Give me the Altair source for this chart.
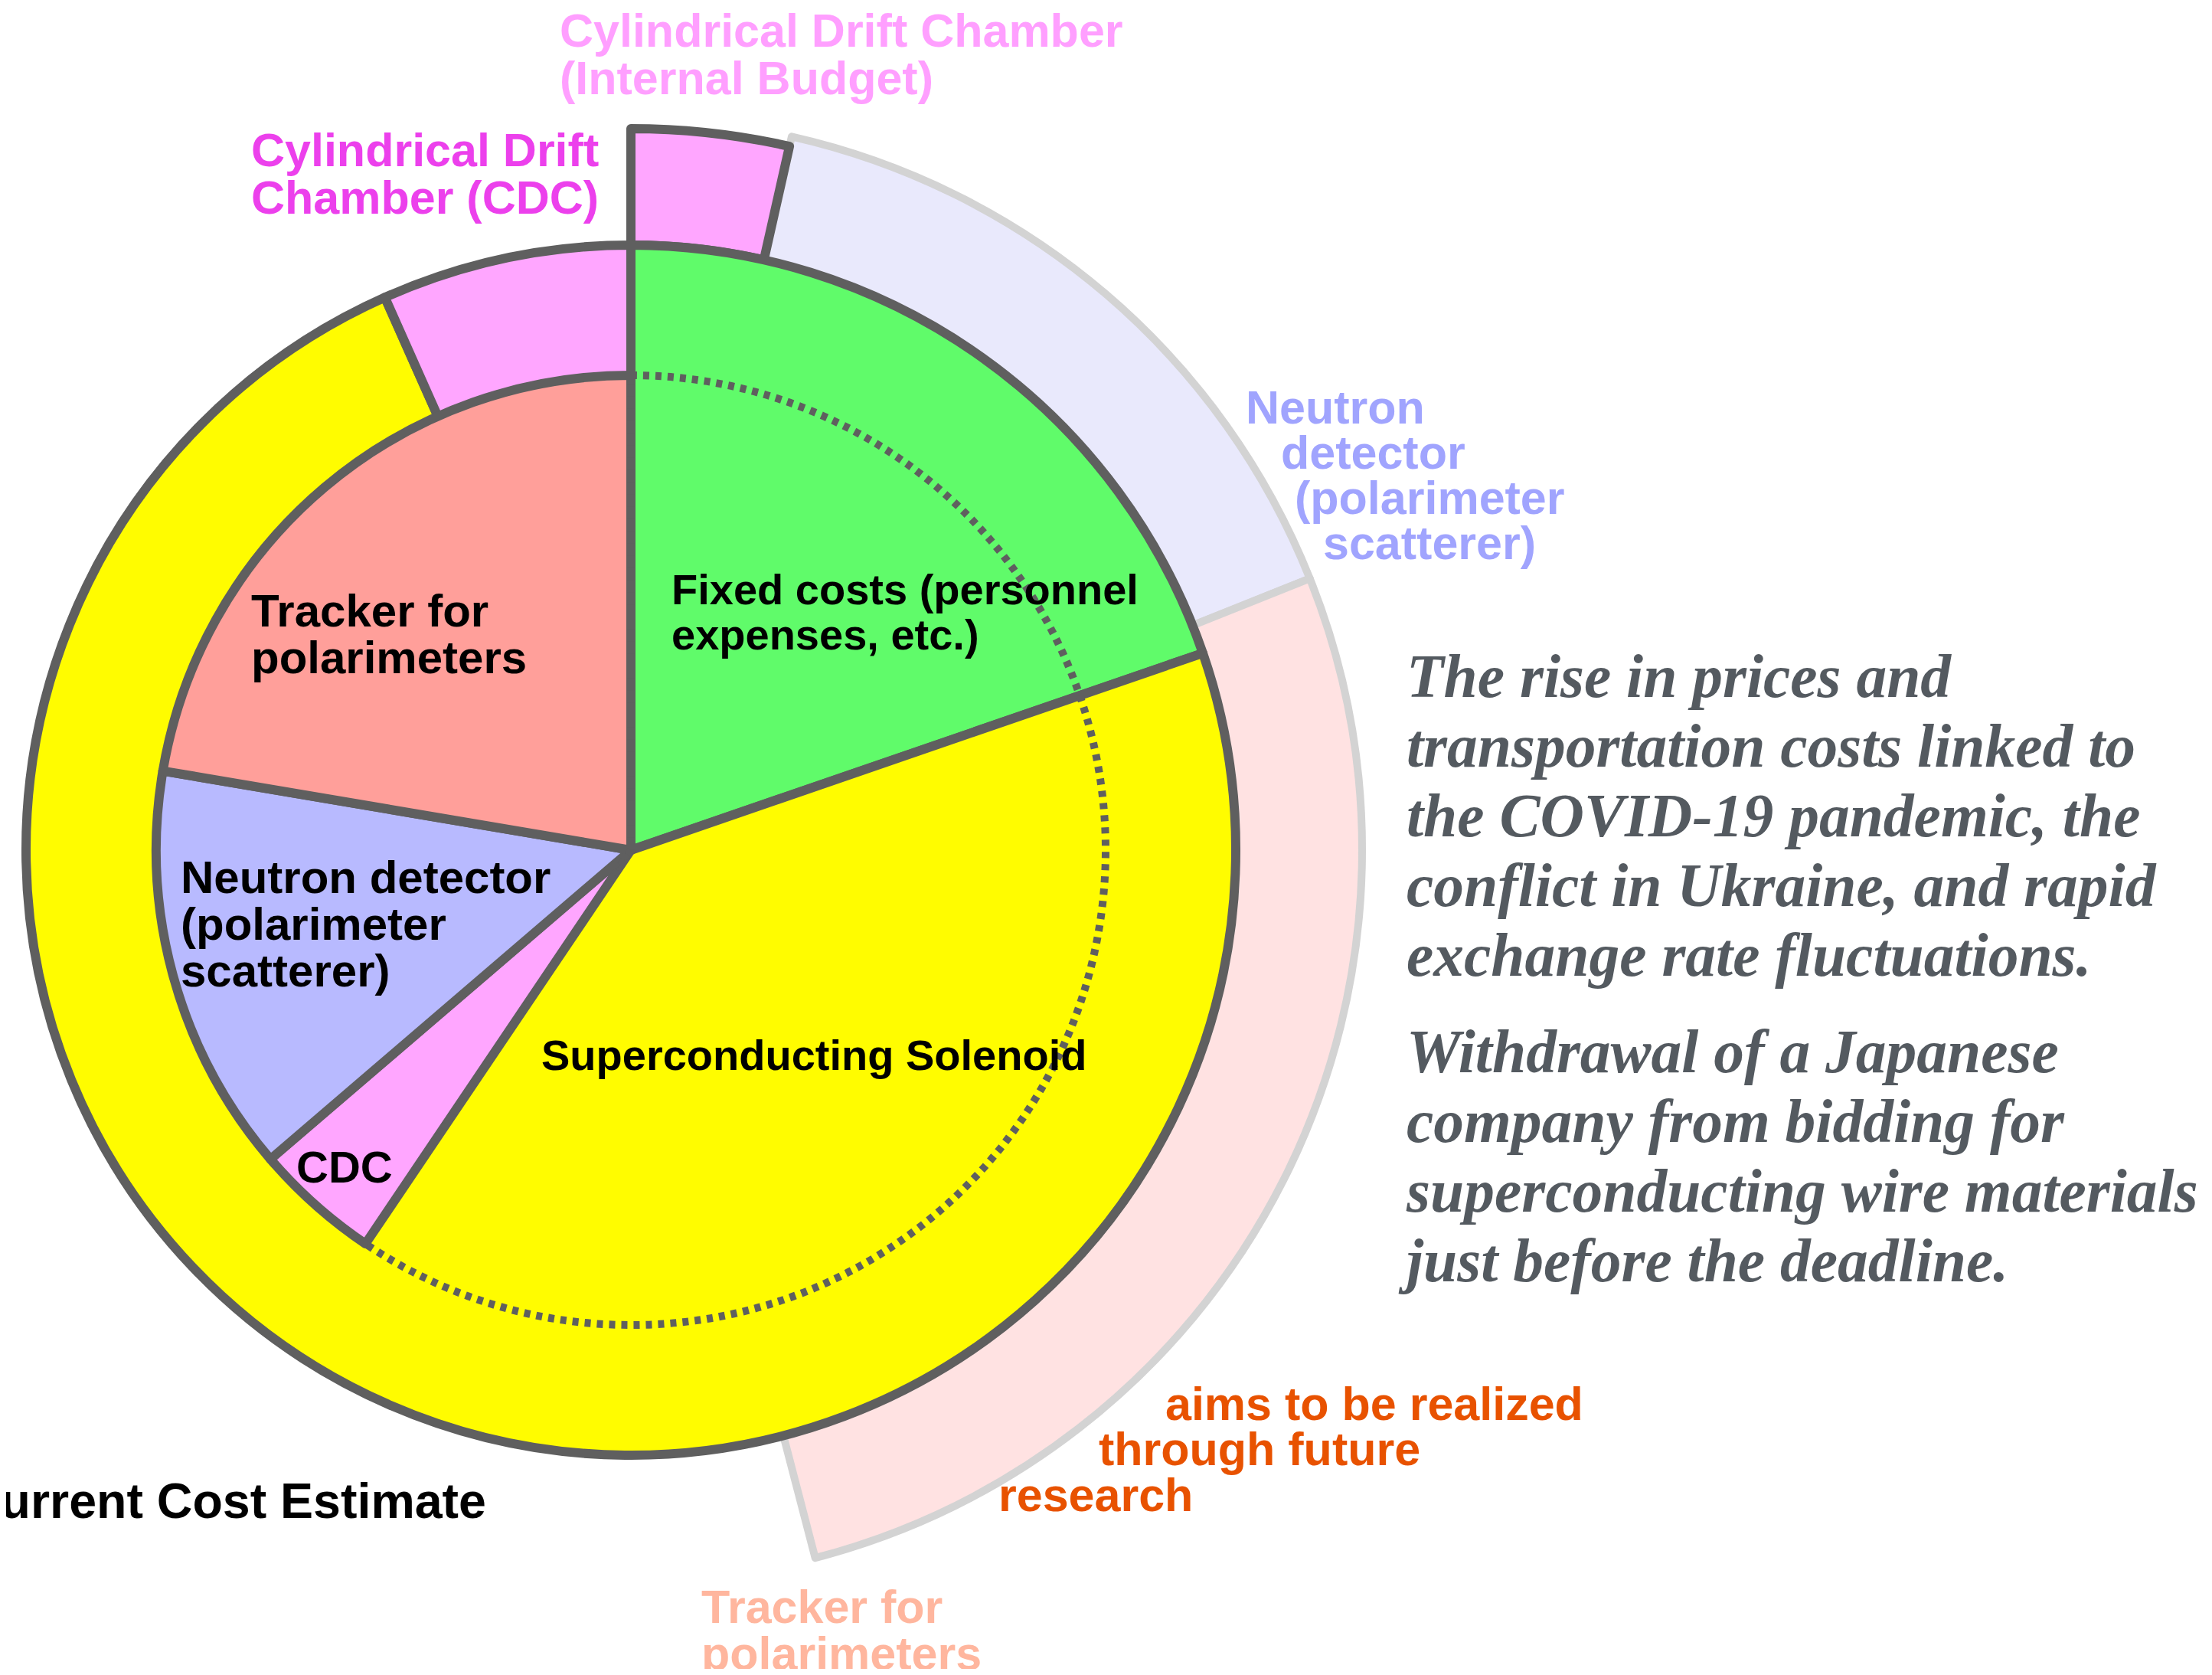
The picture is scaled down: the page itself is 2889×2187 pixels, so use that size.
import math
import altair as alt
import pandas as pd

# ---------------- data (angular spans in degrees) ----------------
current_names = ["Fixed costs", "Superconducting Solenoid", "CDC"]
current_span = [71.0, 265.0, 24.0]

inner_names = ["Fixed costs", "Superconducting Solenoid", "CDC",
               "Neutron detector", "Tracker for polarimeters"]
inner_span = [71.0, 143.0, 15.4, 50.2, 80.4]

outer_names = ["CDC (Internal Budget)", "Neutron detector (future)",
               "Tracker for polarimeters (future)"]
outer_span = [12.7, 55.5, 97.2]

fill_keys = ["Fixed costs", "Superconducting Solenoid", "CDC", "Neutron detector",
             "Tracker for polarimeters", "CDC (Internal Budget)",
             "Neutron detector (future)", "Tracker for polarimeters (future)"]
fill_colors = ["#60fb6a", "#fffc00", "#ffa6ff", "#b8baff",
               "#ff9f9a", "#ffa6ff", "#e9e9fc", "#ffe2e2"]

serif_lines_1 = ["The rise in prices and", "transportation costs linked to",
                 "the COVID-19 pandemic, the", "conflict in Ukraine, and rapid",
                 "exchange rate fluctuations."]
serif_lines_2 = ["Withdrawal of a Japanese", "company from bidding for",
                 "superconducting wire materials", "just before the deadline."]


def segments(names, spans):
    ends = pd.Series(spans).cumsum()
    return pd.DataFrame({"name": names, "start": ends - pd.Series(spans), "end": ends})


current_df = segments(current_names, current_span)
inner_df = segments(inner_names, inner_span)
outer_df = segments(outer_names, outer_span)
inner_solid = inner_df.iloc[2:]
dotted_df = pd.DataFrame({"start": [inner_df["start"].iloc[0]], "end": [inner_df["end"].iloc[1]]})

# ---------------- layout ----------------
CX, CY = 816, 1102
R_IN, R_OUT, R_PALE, R_BUDGET = 620, 790, 955, 942
DARK = "#5f5f5f"
LIGHT = "#d3d3d3"
SANS = "Liberation Sans"
SERIF = "Liberation Serif"

theta_scale = alt.Scale(domain=[0, 360], range=[0, 2 * math.pi])
fill_scale = alt.Scale(domain=fill_keys, range=fill_colors)


def arc_layer(df, r_out, stroke, sw, r_in=None):
    kw = dict(radius=r_out, stroke=stroke, strokeWidth=sw, strokeJoin="round")
    if r_in is not None:
        kw["radius2"] = r_in
    return alt.Chart(df).mark_arc(**kw).encode(
        theta=alt.Theta("start:Q", scale=theta_scale),
        theta2="end:Q",
        fill=alt.Fill("name:N", scale=fill_scale, legend=None),
        x=alt.value(CX), y=alt.value(CY),
    )


pale = arc_layer(outer_df.iloc[1:], R_PALE, LIGHT, 10, R_OUT)
budget = arc_layer(outer_df.iloc[:1], R_BUDGET, DARK, 12, R_OUT)
current = arc_layer(current_df, R_OUT, DARK, 12)
inner = arc_layer(inner_solid, R_IN, DARK, 12)

dotted = alt.Chart(dotted_df).mark_arc(
    radius=R_IN, fill="#ffffff", fillOpacity=0, stroke=DARK, strokeWidth=10,
    strokeDash=[8, 8]
).encode(
    theta=alt.Theta("start:Q", scale=theta_scale), theta2="end:Q",
    x=alt.value(CX), y=alt.value(CY),
)


def label(text, x, y, color, size, line_height=None, font=SANS, style="normal"):
    kw = dict(align="left", baseline="alphabetic", font=font, fontSize=size,
              fontWeight="bold", fontStyle=style, color=color, lineBreak="\n")
    if line_height is not None:
        kw["lineHeight"] = line_height
    return alt.Chart(pd.DataFrame({"t": [text]})).mark_text(**kw).encode(
        text="t:N", x=alt.value(x), y=alt.value(y)
    )


texts = [
    label("Cylindrical Drift Chamber\n(Internal Budget)", 723, 53, "#ff9fff", 61, 62),
    label("Cylindrical Drift\nChamber (CDC)", 320, 209, "#ec40ec", 61, 62),
    label("Neutron", 1619, 545, "#a0a4fe", 61),
    label("detector", 1665, 604, "#a0a4fe", 61),
    label("(polarimeter", 1683, 663, "#a0a4fe", 61),
    label("scatterer)", 1720, 722, "#a0a4fe", 61),
    label("Tracker for\npolarimeters", 908, 2111, "#ffb69e", 61, 61),
    label("aims to be realized", 1514, 1846, "#e85200", 61),
    label("through future", 1427, 1905, "#e85200", 61),
    label("research", 1296, 1965, "#e85200", 61),
    label("Tracker for\npolarimeters", 320, 810, "#000000", 60, 61),
    label("Fixed costs (personnel\nexpenses, etc.)", 869, 781, "#000000", 56, 59),
    label("Neutron detector\n(polarimeter\nscatterer)", 228, 1158, "#000000", 60, 61),
    label("CDC", 379, 1536, "#000000", 58),
    label("Superconducting Solenoid", 699, 1389, "#000000", 56),
    label("Current Cost Estimate", -54, 1974, "#000000", 64.5),
    label("\n".join(serif_lines_1), 1829, 902, "#545a60", 79.5, 91, SERIF, "italic"),
    label("\n".join(serif_lines_2), 1829, 1392, "#545a60", 79.5, 91, SERIF, "italic"),
]

chart = alt.layer(pale, budget, current, inner, dotted, *texts).properties(
    width=2873, height=2171,
    autosize=alt.AutoSizeParams(type="none"),
    padding=0,
    background="#ffffff",
).configure_view(strokeWidth=0)

chart.save("out.html", embed_options={"renderer": "svg", "actions": False})
